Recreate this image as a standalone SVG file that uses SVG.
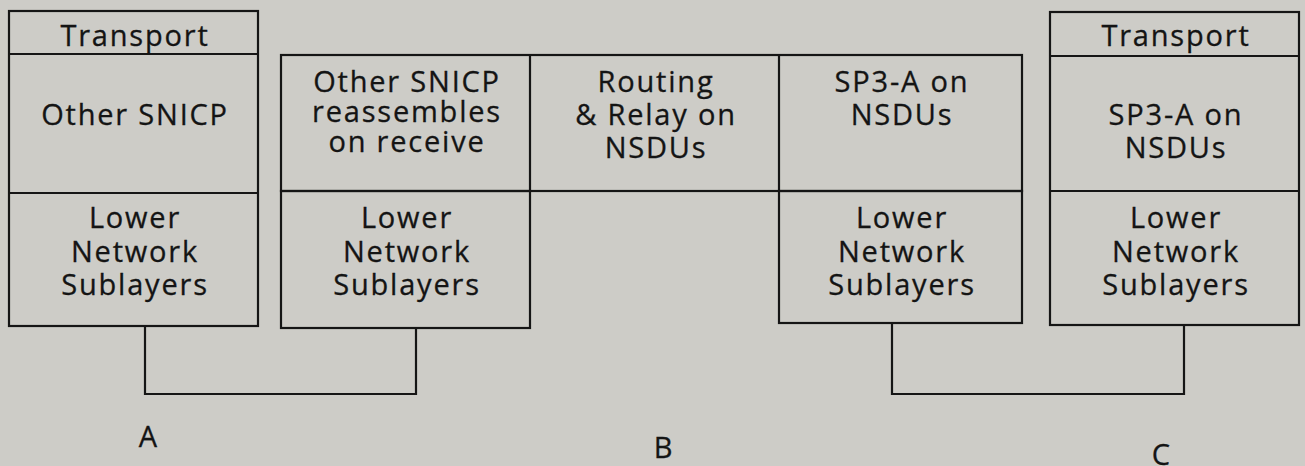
<svg xmlns="http://www.w3.org/2000/svg" width="1305" height="466" viewBox="0 0 1305 466">
  <style>
    .box { fill: none; stroke: #151515; stroke-width: 2.2; }
    .wire { fill: none; stroke: #151515; stroke-width: 2.2; }
    .t { font-family: "Open Sans", "Noto Sans", "DejaVu Sans", sans-serif; font-size: 29px; letter-spacing: 1.8px; fill: #141414; text-anchor: middle; stroke: #141414; stroke-width: 0.3; }
    .lbl { font-family: "Open Sans", "Noto Sans", "DejaVu Sans", sans-serif; font-size: 29px; fill: #141414; text-anchor: middle; stroke: #141414; stroke-width: 0.3; }
  </style>
  <rect width="1305" height="466" fill="#cdccc7"/>

  <!-- End system A -->
  <g id="systemA">
    <rect class="box" x="9" y="11" width="249" height="315"/>
    <line class="box" x1="9" y1="54" x2="258" y2="54"/>
    <line class="box" x1="9" y1="193" x2="258" y2="193"/>
    <text class="t" x="135" y="46">Transport</text>
    <text class="t" x="135" y="125">Other SNICP</text>
    <text class="t" x="135" y="228">Lower</text>
    <text class="t" x="135" y="262">Network</text>
    <text class="t" x="135" y="295">Sublayers</text>
  </g>

  <!-- Intermediate system B: upper row -->
  <g id="systemB">
    <rect class="box" x="281" y="55" width="741" height="136"/>
    <line class="box" x1="530" y1="55" x2="530" y2="191"/>
    <line class="box" x1="779" y1="55" x2="779" y2="191"/>
    <text class="t" x="407" y="92">Other SNICP</text>
    <text class="t" x="407" y="122">reassembles</text>
    <text class="t" x="407" y="152">on receive</text>
    <text class="t" x="656" y="92">Routing</text>
    <text class="t" x="656" y="125">&amp; Relay on</text>
    <text class="t" x="656" y="158">NSDUs</text>
    <text class="t" x="902" y="92">SP3-A on</text>
    <text class="t" x="902" y="125">NSDUs</text>
  </g>
  <g id="systemB-lower-left">
    <rect class="box" x="281" y="191" width="249" height="137"/>
    <text class="t" x="407" y="228">Lower</text>
    <text class="t" x="407" y="262">Network</text>
    <text class="t" x="407" y="295">Sublayers</text>
  </g>
  <g id="systemB-lower-right">
    <rect class="box" x="779" y="191" width="243" height="132"/>
    <text class="t" x="902" y="228">Lower</text>
    <text class="t" x="902" y="262">Network</text>
    <text class="t" x="902" y="295">Sublayers</text>
  </g>

  <!-- End system C -->
  <g id="systemC">
    <rect class="box" x="1050" y="12" width="249" height="313"/>
    <line class="box" x1="1050" y1="56" x2="1299" y2="56"/>
    <line class="box" x1="1050" y1="191" x2="1299" y2="191"/>
    <text class="t" x="1176" y="46">Transport</text>
    <text class="t" x="1176" y="125">SP3-A on</text>
    <text class="t" x="1176" y="158">NSDUs</text>
    <text class="t" x="1176" y="228">Lower</text>
    <text class="t" x="1176" y="262">Network</text>
    <text class="t" x="1176" y="295">Sublayers</text>
  </g>

  <!-- Subnetwork links -->
  <g id="connectors">
    <polyline class="wire" points="145,326 145,394 416,394 416,328"/>
    <polyline class="wire" points="892,323 892,394 1184,394 1184,325"/>
  </g>

  <g id="labels">
    <text class="lbl" x="148" y="447">A</text>
    <text class="lbl" x="663" y="458">B</text>
    <text class="lbl" x="1161" y="465">C</text>
  </g>
</svg>
